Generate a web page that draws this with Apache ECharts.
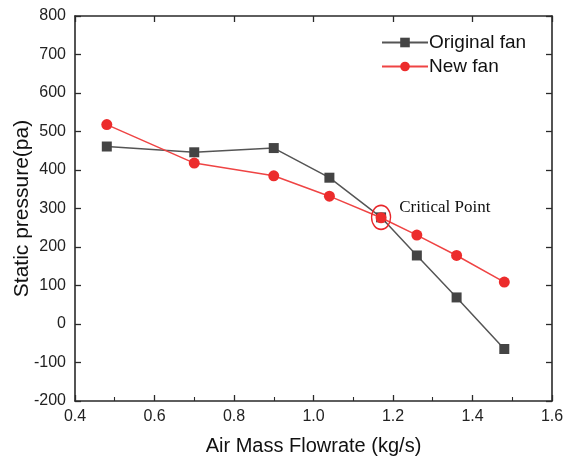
<!DOCTYPE html>
<html>
<head>
<meta charset="utf-8">
<script src="https://cdn.jsdelivr.net/npm/echarts@6/dist/echarts.min.js"></script>
<style>html,body{margin:0;padding:0;background:#fff}#c{width:563px;height:460px}</style>
</head>
<body>
<div id="c"></div>
<script>
const flowrate = [0.48, 0.70, 0.90, 1.04, 1.17, 1.26, 1.36, 1.48];
const originalFan = [461, 446, 457, 380, 277, 178, 69, -65];
const newFan = [518, 418, 385, 332, 276, 231, 178, 109];
const criticalPoint = [1.17, 277];
const seriesNames = ['Original fan', 'New fan'];

const chart = echarts.init(document.getElementById('c'));
const font = 'Liberation Sans, Arial, sans-serif';
const axisCol = '#2a2a2a';
const pair = (xs, ys) => xs.map((x, i) => [x, ys[i]]);

chart.setOption({
  animation: false,
  grid: { left: 75, right: 11, top: 16, bottom: 59, containLabel: false, outerBoundsMode: 'none' },
  legend: {
    orient: 'vertical', left: 381, top: 33, padding: 0, itemGap: 5, itemWidth: 46, itemHeight: 12,
    textStyle: { fontFamily: font, fontSize: 19, color: '#111', padding: [0, 0, 0, -4] },
    data: seriesNames
  },
  xAxis: [{
    type: 'value', min: 0.4, max: 1.6, interval: 0.2,
    name: 'Air Mass Flowrate (kg/s)', nameLocation: 'middle', nameGap: 35, nameMoveOverlap: false,
    nameTextStyle: { fontFamily: font, fontSize: 20, color: '#111' },
    axisLine: { show: true, onZero: false, lineStyle: { color: axisCol, width: 1.6 } },
    axisTick: { show: true, inside: true, length: 6, lineStyle: { color: axisCol, width: 1.3 } },
    minorTick: { show: true, splitNumber: 2, length: 4, lineStyle: { color: axisCol, width: 1.1 } },
    axisLabel: { fontFamily: font, fontSize: 16, color: '#222', margin: 8, formatter: v => v.toFixed(1) },
    splitLine: { show: false }
  }, {
    type: 'value', min: 0.4, max: 1.6, interval: 0.2, position: 'top',
    axisLine: { show: true, onZero: false, lineStyle: { color: axisCol, width: 1.6 } },
    axisTick: { show: true, inside: true, length: 6, lineStyle: { color: axisCol, width: 1.3 } },
    axisLabel: { show: false }, splitLine: { show: false }
  }],
  yAxis: [{
    type: 'value', min: -200, max: 800, interval: 100,
    name: 'Static pressure(pa)', nameLocation: 'middle', nameGap: 42, nameMoveOverlap: false,
    nameTextStyle: { fontFamily: font, fontSize: 21, color: '#111' },
    axisLine: { show: true, onZero: false, lineStyle: { color: axisCol, width: 1.6 } },
    axisTick: { show: true, inside: true, length: 6, lineStyle: { color: axisCol, width: 1.3 } },
    axisLabel: { fontFamily: font, fontSize: 16, color: '#222', margin: 9 },
    splitLine: { show: false }
  }, {
    type: 'value', min: -200, max: 800, interval: 100, position: 'right',
    axisLine: { show: true, onZero: false, lineStyle: { color: axisCol, width: 1.6 } },
    axisTick: { show: true, inside: true, length: 6, lineStyle: { color: axisCol, width: 1.3 } },
    axisLabel: { show: false }, splitLine: { show: false }
  }],
  series: [{
    name: seriesNames[0], type: 'line', data: pair(flowrate, originalFan),
    symbol: 'rect', symbolSize: 10, z: 3,
    lineStyle: { color: '#555', width: 1.5 }, itemStyle: { color: '#444' },
    markPoint: {
      silent: true,
      data: [{ coord: criticalPoint, symbol: 'circle', symbolSize: [19, 24],
        itemStyle: { color: 'rgba(0,0,0,0)', borderColor: '#e8262a', borderWidth: 1.5 },
        label: { show: true, position: 'right', formatter: 'Critical Point', offset: [3, -10],
          fontFamily: 'Liberation Serif, Times New Roman, serif', fontSize: 17, color: '#111' } }]
    }
  }, {
    name: seriesNames[1], type: 'line', data: pair(flowrate, newFan),
    symbol: 'circle', symbolSize: 11, z: 4,
    lineStyle: { color: '#ef4444', width: 1.5 }, itemStyle: { color: '#ec2c2c' }
  }]
});
</script>
</body>
</html>
